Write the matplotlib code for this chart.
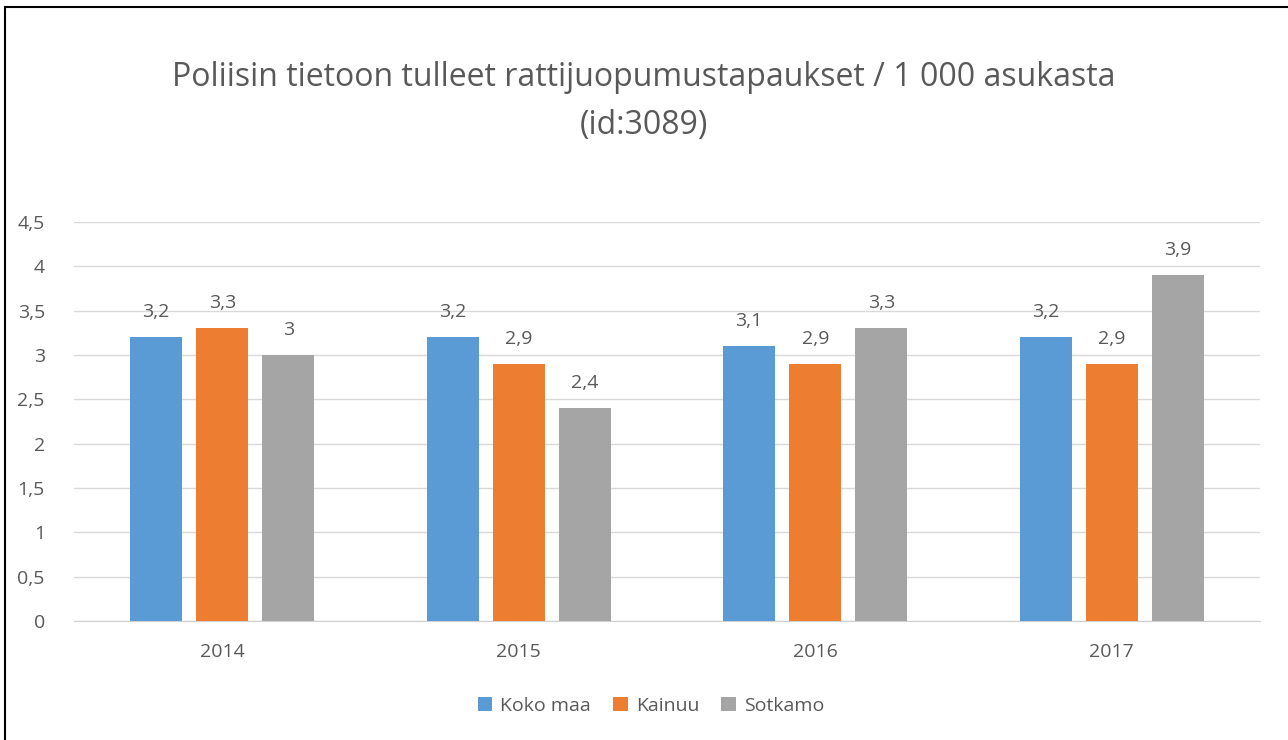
import numpy as np
import matplotlib.pyplot as plt
from matplotlib.lines import Line2D

plt.rcParams['font.family'] = ['Open Sans', 'DejaVu Sans']

years = ['2014', '2015', '2016', '2017']
series = ['Koko maa', 'Kainuu', 'Sotkamo']
koko_maa = [3.2, 3.2, 3.1, 3.2]
kainuu = [3.3, 2.9, 2.9, 2.9]
sotkamo = [3.0, 2.4, 3.3, 3.9]
colors = ['#5B9BD5', '#ED7D31', '#A5A5A5']
txt = '#595959'
fs = 14

fig = plt.figure(figsize=(12.88, 7.40), dpi=100)
ax = fig.add_axes([74 / 1288, 119 / 740, 1186 / 1288, 399 / 740])

x = np.arange(len(years))
w = 0.176
pitch = 0.223
for i, (vals, c) in enumerate(zip([koko_maa, kainuu, sotkamo], colors)):
    pos = x + (i - 1) * pitch
    ax.bar(pos, vals, width=w, color=c, label=series[i], zorder=3)
    for p, v in zip(pos, vals):
        lab = ('%g' % v).replace('.', ',')
        ax.text(p, v + 0.225, lab, ha='center', va='baseline', fontsize=fs, color=txt)

ax.set_xlim(-0.5, 3.5)
ax.set_ylim(0, 4.5)
yt = np.arange(0, 4.51, 0.5)
ax.set_yticks(yt)
ax.set_yticklabels([('%g' % t).replace('.', ',') for t in yt], fontsize=fs, color=txt)
ax.set_xticks(x)
ax.set_xticklabels(years, fontsize=fs, color=txt)
ax.tick_params(length=0)
ax.tick_params(axis='y', pad=21)
ax.tick_params(axis='x', pad=16)
ax.grid(axis='y', color='#d9d9d9', linewidth=1, zorder=0)
for s in ['top', 'right', 'left']:
    ax.spines[s].set_visible(False)
ax.spines['bottom'].set_color('#d0d0d0')

fig.text(0.5, 1 - 86 / 740, 'Poliisin tietoon tulleet rattijuopumustapaukset / 1 000 asukasta',
         ha='center', va='baseline', fontsize=23, color=txt)
fig.text(0.5, 1 - 134 / 740, '(id:3089)', ha='center', va='baseline', fontsize=23, color=txt)

leg = ax.legend(loc='center', bbox_to_anchor=(0.4865, -0.213), ncol=3, frameon=False,
                fontsize=fs, handlelength=0.75, handleheight=0.75, handletextpad=0.4,
                columnspacing=1.15)
for t in leg.get_texts():
    t.set_color(txt)

# frame: top and left edges only
fig.add_artist(Line2D([5 / 1288, 5 / 1288], [0, 1 - 7 / 740], transform=fig.transFigure,
                      color='black', linewidth=1.5))
fig.add_artist(Line2D([5 / 1288, 1], [1 - 7 / 740, 1 - 7 / 740], transform=fig.transFigure,
                      color='black', linewidth=1.5))

fig.savefig('out.png', dpi=100)
